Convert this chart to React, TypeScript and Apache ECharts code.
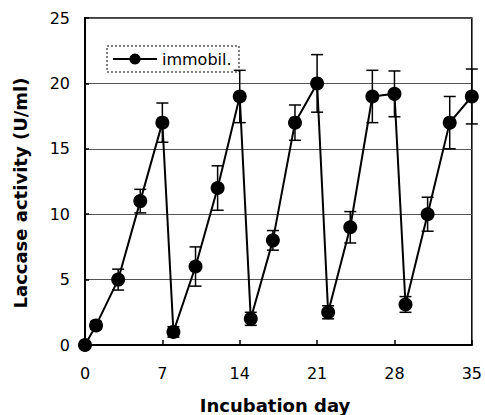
import React, { useEffect, useRef } from "react";
import * as echarts from "echarts";

const days = [0, 1, 3, 5, 7, 8, 10, 12, 14, 15, 17, 19, 21, 22, 24, 26, 28, 29, 31, 33, 35];
const activity = [0, 1.5, 5, 11, 17, 1, 6, 12, 19, 2, 8, 17, 20, 2.5, 9, 19, 19.2, 3.1, 10, 17, 19];
const errors = [0, 0.3, 0.8, 0.9, 1.5, 0.4, 1.5, 1.7, 2, 0.5, 0.75, 1.35, 2.2, 0.5, 1.2, 2, 1.75, 0.6, 1.3, 2, 2.1];
const seriesName = "immobil.";
const xTitle = "Incubation day";
const yTitle = "Laccase activity (U/ml)";

const FONT = "DejaVu Sans";

export default function App() {
  const ref = useRef<HTMLDivElement>(null);
  useEffect(() => {
    document.body.style.margin = "0";
    const chart = echarts.init(ref.current!, null, { renderer: "svg" });
    const pts = days.map((d, i) => [d, activity[i]]);
    const errData = days.map((d, i) => [d, activity[i], errors[i]]);
    chart.setOption({
      animation: false,
      backgroundColor: "#fff",
      grid: {
        left: 85,
        right: 11,
        top: 18,
        bottom: 70,
        show: true,
        borderColor: "#000",
        borderWidth: 1.5,
        backgroundColor: "transparent",
      },
      legend: {
        data: [seriesName],
        left: 112,
        top: 51,
        itemWidth: 44,
        itemHeight: 14,
        itemGap: 4,
        padding: 0,
        textStyle: { fontFamily: FONT, fontSize: 16, color: "#000" },
      },
      xAxis: {
        type: "value",
        min: 0,
        max: 35,
        interval: 7,
        axisLine: { lineStyle: { color: "#000", width: 2 } },
        axisTick: { inside: true, length: 5, lineStyle: { color: "#000", width: 1.5 } },
        axisLabel: { fontFamily: FONT, fontSize: 16, color: "#000", margin: 20 },
        splitLine: { show: false },
      },
      yAxis: {
        type: "value",
        min: 0,
        max: 25,
        interval: 5,
        axisLine: { lineStyle: { color: "#000", width: 2 } },
        axisTick: { inside: true, length: 4, lineStyle: { color: "#000", width: 1.5 } },
        axisLabel: { fontFamily: FONT, fontSize: 16, color: "#000", margin: 15 },
        splitLine: { show: true, lineStyle: { color: "#555", width: 1 } },
      },
      graphic: [
        {
          type: "rect",
          shape: { x: 107, y: 46, width: 132, height: 26 },
          style: { fill: "none", stroke: "#000", lineWidth: 1, lineDash: [2, 2] },
          z: 10,
        },
        {
          type: "text",
          x: 275,
          y: 405,
          style: {
            text: xTitle,
            fontFamily: FONT,
            fontSize: 18,
            fontWeight: "bold",
            fill: "#000",
            align: "center",
            verticalAlign: "middle",
          },
        },
        {
          type: "text",
          x: 20,
          y: 193,
          rotation: Math.PI / 2,
          style: {
            text: yTitle,
            fontFamily: FONT,
            fontSize: 18,
            fontWeight: "bold",
            fill: "#000",
            align: "center",
            verticalAlign: "middle",
          },
        },
      ],
      series: [
        {
          type: "custom",
          name: "err",
          data: errData,
          z: 2,
          renderItem: (params: any, api: any) => {
            const x = api.value(0);
            const y = api.value(1);
            const e = api.value(2);
            if (!e) return { type: "group", children: [] };
            const top = api.coord([x, y + e]);
            const bot = api.coord([x, y - e]);
            const w = 6;
            const st = { stroke: "#000", lineWidth: 1.5 };
            return {
              type: "group",
              children: [
                { type: "line", shape: { x1: top[0], y1: top[1], x2: bot[0], y2: bot[1] }, style: st },
                { type: "line", shape: { x1: top[0] - w, y1: top[1], x2: top[0] + w, y2: top[1] }, style: st },
                { type: "line", shape: { x1: bot[0] - w, y1: bot[1], x2: bot[0] + w, y2: bot[1] }, style: st },
              ],
            };
          },
        },
        {
          type: "line",
          name: seriesName,
          data: pts,
          z: 3,
          symbol: "circle",
          symbolSize: 14,
          lineStyle: { color: "#000", width: 2 },
          itemStyle: { color: "#000" },
        },
      ],
    });
    return () => chart.dispose();
  }, []);
  return <div ref={ref} style={{ width: 485, height: 415 }} />;
}
